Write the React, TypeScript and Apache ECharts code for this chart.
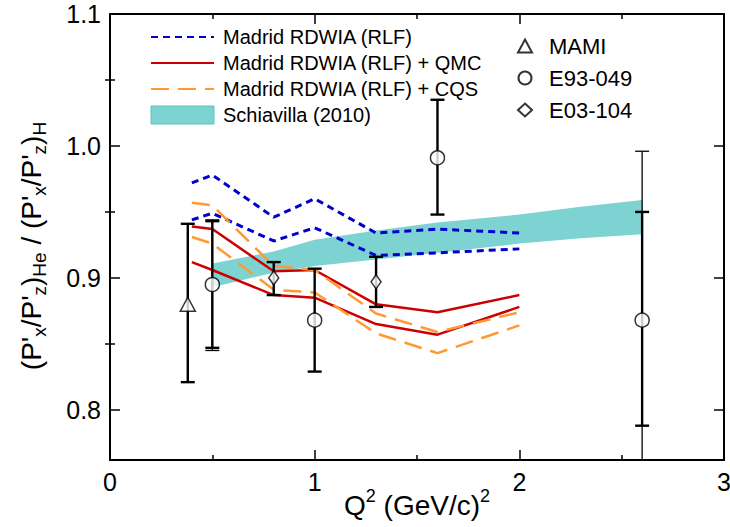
import React, { useEffect, useRef } from 'react';
import * as echarts from 'echarts';

const FONT = 'Liberation Sans, Arial, sans-serif';

// Model curves (Q^2 in (GeV/c)^2)
const q2Model = [0.4, 0.5, 0.8, 1.0, 1.3, 1.6, 2.0];
const rlfUpper = [0.972, 0.978, 0.946, 0.960, 0.934, 0.937, 0.934];
const rlfLower = [0.944, 0.949, 0.928, 0.938, 0.917, 0.919, 0.922];
const qmcUpper = [0.939, 0.937, 0.905, 0.906, 0.880, 0.874, 0.887];
const qmcLower = [0.912, 0.906, 0.887, 0.885, 0.865, 0.857, 0.878];
const cqsUpper = [0.957, 0.955, 0.909, 0.906, 0.873, 0.859, 0.874];
const cqsLower = [0.931, 0.926, 0.891, 0.889, 0.858, 0.843, 0.864];

// Schiavilla (2010) band
const bandQ2 = [0.5, 0.8, 1.0, 1.3, 1.6, 2.0, 2.3, 2.6];
const bandHigh = [0.911, 0.920, 0.929, 0.936, 0.942, 0.948, 0.954, 0.959];
const bandLow = [0.893, 0.904, 0.909, 0.914, 0.919, 0.926, 0.930, 0.933];

// Data: MAMI
const mamiQ2 = [0.38];
const mamiRatio = [0.880];
const mamiLow = [0.821];
const mamiHigh = [0.941];

// Data: E93-049
const e93Q2 = [0.5, 1.0, 1.6, 2.6];
const e93Ratio = [0.895, 0.868, 0.991, 0.868];
const e93StatLow = [0.847, 0.829, 0.948, 0.788];
const e93StatHigh = [0.943, 0.907, 1.035, 0.950];
const e93TotLow = [0.845, null, null, 0.74];
const e93TotHigh = [0.944, null, null, 0.996];

// Data: E03-104
const e03Q2 = [0.8, 1.3];
const e03Ratio = [0.900, 0.897];
const e03Low = [0.887, 0.878];
const e03High = [0.912, 0.916];

// Axis ticks
const yMajor = [0.8, 0.9, 1.0, 1.1];
const yMinor = [0.85, 0.95, 1.05];
const Y_MIN = 0.762;
const Y_MAX = 1.1;

const NAME_RLF = 'Madrid RDWIA (RLF)';
const NAME_QMC = 'Madrid RDWIA (RLF) + QMC';
const NAME_CQS = 'Madrid RDWIA (RLF) + CQS';
const NAME_BAND = 'Schiavilla (2010)';

const BLUE = '#0000cc';
const RED = '#cc0000';
const ORANGE = '#ff9933';
const CYAN = '#7dd2d2';

const pairs = (xs: number[], ys: number[]) => xs.map((x, i) => [x, ys[i]]);

const errRender = (lw: number) => (params: any, api: any) => {
  const x = api.value(0);
  const lo = api.value(1);
  const hi = api.value(2);
  const a = api.coord([x, lo]);
  const b = api.coord([x, hi]);
  const cap = 7;
  const st = { stroke: '#000', lineWidth: lw };
  return {
    type: 'group',
    children: [
      { type: 'line', shape: { x1: a[0], y1: a[1], x2: b[0], y2: b[1] }, style: st },
      { type: 'line', shape: { x1: b[0] - cap, y1: b[1], x2: b[0] + cap, y2: b[1] }, style: st },
      { type: 'line', shape: { x1: a[0] - cap, y1: a[1], x2: a[0] + cap, y2: a[1] }, style: st },
    ],
  };
};

const lineSeries = (name: string, ys: number[], color: string, type: any, width: number) => ({
  name,
  type: 'line',
  data: pairs(q2Model, ys),
  symbol: 'none',
  lineStyle: { color, type, width },
  itemStyle: { color },
  z: 3,
});

export default function App() {
  const ref = useRef<HTMLDivElement>(null);

  useEffect(() => {
    if (!ref.current) return;
    const chart = echarts.init(ref.current, undefined, { renderer: 'svg' });

    const statData: any[] = [];
    mamiQ2.forEach((x, i) => statData.push([x, mamiLow[i], mamiHigh[i]]));
    e93Q2.forEach((x, i) => statData.push([x, e93StatLow[i], e93StatHigh[i]]));
    e03Q2.forEach((x, i) => statData.push([x, e03Low[i], e03High[i]]));
    const totData: any[] = [];
    e93Q2.forEach((x, i) => {
      if (e93TotLow[i] != null && e93TotHigh[i] != null) totData.push([x, e93TotLow[i], e93TotHigh[i]]);
    });

    const bandData = bandQ2.map((x, i) => [x, bandLow[i], bandHigh[i]]);

    const hollow = { color: '#fff', borderColor: '#000', borderWidth: 1.5 };

    const xAxisBase = {
      type: 'value',
      min: 0,
      max: 3,
      interval: 1,
      axisLine: { show: true, onZero: false, lineStyle: { color: '#000', width: 2 } },
      axisTick: { show: true, inside: true, length: 10, lineStyle: { color: '#000', width: 1.5 } },
      minorTick: { show: true, splitNumber: 2, length: 5, lineStyle: { color: '#000', width: 1.5 } },
      splitLine: { show: false },
      minorSplitLine: { show: false },
    };
    const yAxisBase = {
      type: 'value',
      min: Y_MIN,
      max: Y_MAX,
      splitLine: { show: false },
    };

    chart.setOption({
      animation: false,
      backgroundColor: '#fff',
      grid: { left: 110, right: 6, top: 14, bottom: 67, containLabel: false, outerBoundsMode: 'none' },
      xAxis: [
        {
          ...xAxisBase,
          position: 'bottom',
          axisLabel: { show: true, fontSize: 25, color: '#000', fontFamily: FONT, margin: 9 },
        },
        {
          ...xAxisBase,
          position: 'top',
          axisLabel: { show: false },
        },
      ],
      yAxis: [
        {
          ...yAxisBase,
          position: 'left',
          axisLine: { show: true, onZero: false, lineStyle: { color: '#000', width: 2 } },
          axisTick: { show: true, inside: true, length: 10, customValues: yMajor, lineStyle: { color: '#000', width: 1.5 } },
          axisLabel: {
            show: true,
            customValues: yMajor,
            formatter: (v: number) => v.toFixed(1),
            fontSize: 25,
            color: '#000',
            fontFamily: FONT,
            margin: 9,
          },
        },
        {
          ...yAxisBase,
          position: 'left',
          axisLine: { show: false },
          axisTick: { show: true, inside: true, length: 5, customValues: yMinor, lineStyle: { color: '#000', width: 1.5 } },
          axisLabel: { show: false },
        },
        {
          ...yAxisBase,
          position: 'right',
          axisLine: { show: true, onZero: false, lineStyle: { color: '#000', width: 2 } },
          axisTick: { show: true, inside: true, length: 10, customValues: yMajor, lineStyle: { color: '#000', width: 1.5 } },
          axisLabel: { show: false },
        },
        {
          ...yAxisBase,
          position: 'right',
          axisLine: { show: false },
          axisTick: { show: true, inside: true, length: 5, customValues: yMinor, lineStyle: { color: '#000', width: 1.5 } },
          axisLabel: { show: false },
        },
      ],
      legend: [
        {
          data: [
            NAME_RLF,
            NAME_QMC,
            NAME_CQS,
            { name: NAME_BAND, icon: 'rect', itemStyle: { opacity: 1, color: CYAN, borderColor: '#5cc4c4', borderWidth: 1 } },
          ],
          orient: 'vertical',
          left: 145,
          top: 22,
          itemWidth: 63,
          itemHeight: 18,
          itemGap: 6,
          selectedMode: false,
          itemStyle: { opacity: 0 },
          textStyle: { fontSize: 20, color: '#000', fontFamily: FONT, padding: [0, 0, 0, 4] },
        },
        {
          data: ['MAMI', 'E93-049', 'E03-104'],
          orient: 'vertical',
          left: 512,
          top: 30,
          itemWidth: 14,
          itemHeight: 13,
          itemGap: 10,
          selectedMode: false,
          textStyle: { fontSize: 22, color: '#000', fontFamily: FONT, padding: [0, 0, 0, 12] },
        },
      ],
      graphic: [
        {
          type: 'text',
          x: 417,
          y: 505,
          style: {
            text: 'Q{sup|2} (GeV/c){sup|2}',
            font: `28px ${FONT}`,
            fill: '#000',
            align: 'center',
            verticalAlign: 'middle',
            rich: {
              sup: { fontSize: 18, fontFamily: FONT, fill: '#000', padding: [0, 0, 18, 0] },
            },
          },
        },
        {
          type: 'text',
          x: 31,
          y: 246,
          rotation: Math.PI / 2,
          style: {
            text: "(P'{sub|x}/P'{sub|z}){sub|He} / (P'{sub|x}/P'{sub|z}){sub|H}",
            font: `28px ${FONT}`,
            fill: '#000',
            align: 'center',
            verticalAlign: 'middle',
            rich: {
              sub: { fontSize: 19, fontFamily: FONT, fill: '#000', padding: [16, 0, 0, 0] },
            },
          },
        },
      ],
      series: [
        {
          name: NAME_BAND,
          type: 'custom',
          data: bandData,
          itemStyle: { color: CYAN },
          z: 1,
          renderItem: (params: any, api: any) => {
            if (params.dataIndex !== 0) return { type: 'group', children: [] };
            const top = bandQ2.map((x, i) => api.coord([x, bandHigh[i]]));
            const bot = bandQ2.map((x, i) => api.coord([x, bandLow[i]])).reverse();
            return {
              type: 'polygon',
              shape: { points: top.concat(bot) },
              style: { fill: CYAN },
            };
          },
        },
        lineSeries(NAME_RLF, rlfUpper, BLUE, [7, 5], 3),
        lineSeries(NAME_RLF, rlfLower, BLUE, [7, 5], 3),
        lineSeries(NAME_QMC, qmcUpper, RED, 'solid', 2.5),
        lineSeries(NAME_QMC, qmcLower, RED, 'solid', 2.5),
        lineSeries(NAME_CQS, cqsUpper, ORANGE, [18, 9], 2.5),
        lineSeries(NAME_CQS, cqsLower, ORANGE, [18, 9], 2.5),
        {
          name: 'stat',
          type: 'custom',
          data: statData,
          renderItem: errRender(2.4),
          clip: true,
          z: 5,
        },
        {
          name: 'total',
          type: 'custom',
          data: totData,
          renderItem: errRender(1.3),
          clip: true,
          z: 5,
        },
        {
          name: 'MAMI',
          type: 'scatter',
          data: pairs(mamiQ2, mamiRatio),
          symbol: 'triangle',
          symbolSize: [15, 14],
          itemStyle: hollow,
          z: 6,
        },
        {
          name: 'E93-049',
          type: 'scatter',
          data: pairs(e93Q2, e93Ratio),
          symbol: 'circle',
          symbolSize: 14,
          itemStyle: hollow,
          z: 6,
        },
        {
          name: 'E03-104',
          type: 'scatter',
          data: pairs(e03Q2, e03Ratio),
          symbol: 'diamond',
          symbolSize: [10, 14],
          itemStyle: hollow,
          z: 6,
        },
      ],
    });

    return () => chart.dispose();
  }, []);

  return (
    <div
      ref={ref}
      style={{ position: 'fixed', left: 0, top: 0, width: 730, height: 527, background: '#fff' }}
    />
  );
}
